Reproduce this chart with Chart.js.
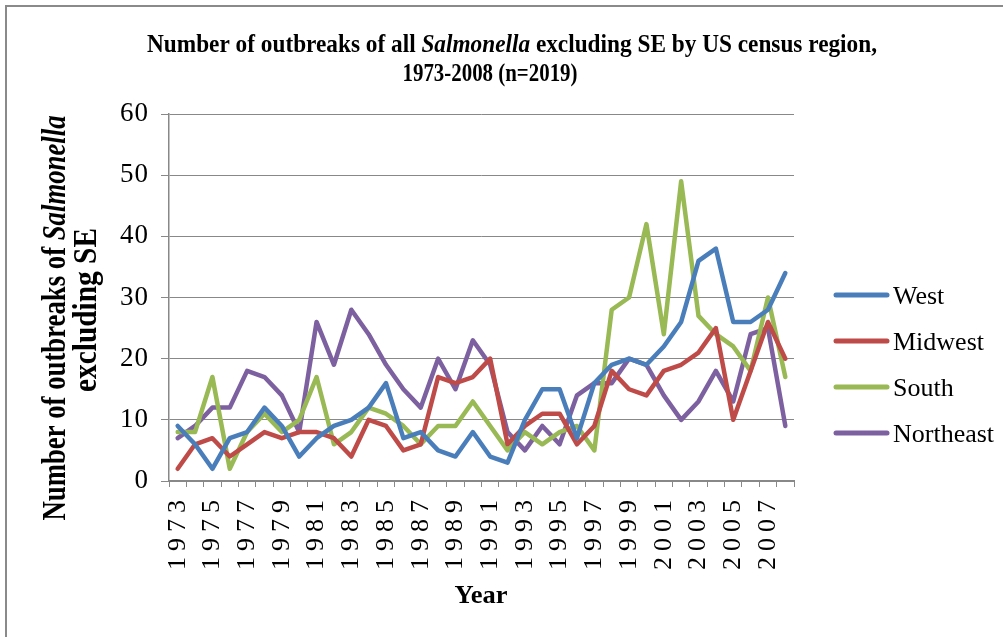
<!DOCTYPE html>
<html>
<head>
<meta charset="utf-8">
<script src="https://cdn.jsdelivr.net/npm/chart.js@4.4.1/dist/chart.umd.min.js"></script>
<style>
html,body{margin:0;padding:0;background:#fff;}
#wrap{width:1003px;height:637px;position:relative;}
canvas{display:block;}
</style>
</head>
<body>
<div id="wrap"><canvas id="c" width="1003" height="637"></canvas></div>
<script>
const years = ['1973','1974','1975','1976','1977','1978','1979','1980','1981','1982','1983','1984','1985','1986','1987','1988','1989','1990','1991','1992','1993','1994','1995','1996','1997','1998','1999','2000','2001','2002','2003','2004','2005','2006','2007','2008'];
const west      = [9,6,2,7,8,12,9,4,7,9,10,12,16,7,8,5,4,8,4,3,10,15,15,7,16,19,20,19,22,26,36,38,26,26,28,34];
const midwest   = [2,6,7,4,6,8,7,8,8,7,4,10,9,5,6,17,16,17,20,6,9,11,11,6,9,18,15,14,18,19,21,25,10,18,26,20];
const south     = [8,8,17,2,8,11,8,10,17,6,8,12,11,9,6,9,9,13,9,5,8,6,8,9,5,28,30,42,24,49,27,24,22,18,30,17];
const northeast = [7,9,12,12,18,17,14,8,26,19,28,24,19,15,12,20,15,23,19,8,5,9,6,14,16,16,20,19,14,10,13,18,13,24,25,9];
const seriesNames = ['West','Midwest','South','Northeast'];
const yTicks = [0,10,20,30,40,50,60];

const colors = ['#4a7ebb','#be4b48','#98b954','#7d60a0'];
const SERIF = '"Liberation Serif", "Times New Roman", serif';

function drawRich(ctx, segs, x, y, size, targetLen, rot) {
  ctx.save();
  let total = 0;
  for (const s of segs) {
    ctx.font = (s.i ? 'italic ' : '') + 'bold ' + size + 'px ' + SERIF;
    s.w = ctx.measureText(s.t).width;
    total += s.w;
  }
  const sx = targetLen / total;
  ctx.translate(x, y);
  ctx.rotate(rot);
  ctx.scale(sx, 1);
  ctx.fillStyle = '#000';
  ctx.textBaseline = 'alphabetic';
  ctx.textAlign = 'left';
  let cx = -total / 2;
  for (const s of segs) {
    ctx.font = (s.i ? 'italic ' : '') + 'bold ' + size + 'px ' + SERIF;
    ctx.fillText(s.t, cx, 0);
    cx += s.w;
  }
  ctx.restore();
}

const spacingPlugin = {
  id: 'spacing',
  beforeDraw(chart) {
    const cfg = {x: 6, y: 1};
    for (const id of Object.keys(cfg)) {
      const s = chart.scales[id];
      if (s && !s._spPatched) {
        const orig = s.drawLabels.bind(s);
        const sp = cfg[id];
        s.drawLabels = function(area) {
          const ctx = this.ctx;
          ctx.save();
          ctx.letterSpacing = sp + 'px';
          orig(area);
          ctx.restore();
        };
        s._spPatched = true;
      }
    }
  }
};

const decorPlugin = {
  id: 'decor',
  afterDraw(chart) {
    const ctx = chart.ctx;
    // frame
    ctx.save();
    ctx.strokeStyle = '#8a8a8a';
    ctx.lineWidth = 2;
    ctx.strokeRect(6, 6, 1100, 700);
    ctx.restore();
    // title
    drawRich(ctx, [{t:'Number of outbreaks of all '},{t:'Salmonella', i:true},{t:' excluding SE by US census region,'}], 512, 52, 26, 730, 0);
    drawRich(ctx, [{t:'1973-2008 (n=2019)'}], 490, 81, 26, 175, 0);
    // y axis title
    drawRich(ctx, [{t:'Number of outbreaks of '},{t:'Salmonella', i:true}], 65, 318, 34, 405, -Math.PI/2);
    drawRich(ctx, [{t:'excluding SE'}], 96, 310, 34, 164, -Math.PI/2);
    // x axis title
    drawRich(ctx, [{t:'Year'}], 481, 603, 26, 53, 0);
    // legend
    const ys = [295, 341, 387, 433];
    chart.data.datasets.forEach((ds, i) => {
      ctx.save();
      ctx.strokeStyle = ds.borderColor;
      ctx.lineWidth = 5;
      ctx.lineCap = 'round';
      ctx.beginPath();
      ctx.moveTo(836, ys[i]);
      ctx.lineTo(887, ys[i]);
      ctx.stroke();
      ctx.fillStyle = '#000';
      ctx.font = '26px ' + SERIF;
      ctx.textBaseline = 'alphabetic';
      ctx.textAlign = 'left';
      ctx.fillText(ds.label, 893, ys[i] + 9);
      ctx.restore();
    });
  }
};

const seriesData = [west, midwest, south, northeast];
const datasets = seriesNames.map((n, i) => ({
  label: n,
  data: seriesData[i],
  borderColor: colors[i],
  backgroundColor: colors[i],
  borderWidth: 4.5,
  pointRadius: 0,
  pointHoverRadius: 0,
  tension: 0,
  fill: false,
  borderJoinStyle: 'round',
  borderCapStyle: 'round'
}));

new Chart(document.getElementById('c'), {
  type: 'line',
  data: { labels: years, datasets },
  options: {
    responsive: false,
    animation: false,
    devicePixelRatio: 1,
    layout: { padding: { top: 114, right: 209, bottom: 0, left: 0 } },
    plugins: { legend: { display: false }, title: { display: false }, tooltip: { enabled: false } },
    scales: {
      x: {
        type: 'category',
        offset: true,
        afterFit(s) { s.height = 637 - 481; },
        grid: { offset: true, drawOnChartArea: false, drawTicks: true, tickLength: 6, color: '#888', lineWidth: 1 },
        border: { display: true, color: '#888', width: 2 },
        ticks: {
          autoSkip: false, maxRotation: 90, minRotation: 90, padding: 7,
          color: '#000',
          font: { family: SERIF, size: 26 },
          callback(v, i) { return i % 2 === 0 ? years[i] : ''; }
        }
      },
      y: {
        min: 0, max: 60,
        afterFit(s) { s.width = 169; },
        afterBuildTicks(s) { s.ticks = yTicks.map(v => ({ value: v })); },
        grid: { color: '#888', lineWidth: 1, tickLength: 8, drawTicks: true },
        border: { display: true, color: '#888', width: 1.5 },
        ticks: {
          padding: 12, color: '#000',
          font: { family: SERIF, size: 27 }
        }
      }
    }
  },
  plugins: [spacingPlugin, decorPlugin]
});
</script>
</body>
</html>
